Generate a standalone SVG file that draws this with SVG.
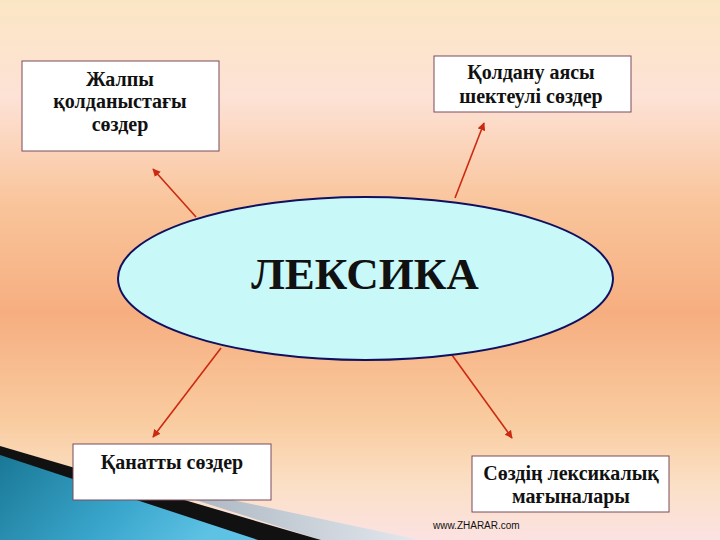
<svg xmlns="http://www.w3.org/2000/svg" width="720" height="540" viewBox="0 0 720 540">
  <defs>
    <linearGradient id="bg" x1="0" y1="0" x2="0" y2="1">
      <stop offset="0" stop-color="#fbe6c4"/>
      <stop offset="0.18" stop-color="#fde2d6"/>
      <stop offset="0.38" stop-color="#f9c49a"/>
      <stop offset="0.58" stop-color="#f6ae80"/>
      <stop offset="0.78" stop-color="#f9cca0"/>
      <stop offset="0.9" stop-color="#fbe0c6"/>
      <stop offset="1" stop-color="#fbe2e2"/>
    </linearGradient>
    <linearGradient id="blue" x1="0" y1="0" x2="1" y2="0.3">
      <stop offset="0" stop-color="#1a7896"/>
      <stop offset="0.6" stop-color="#3aa6cc"/>
      <stop offset="1" stop-color="#5ec2e4"/>
    </linearGradient>
    <linearGradient id="grey" x1="0" y1="0" x2="1" y2="0">
      <stop offset="0" stop-color="#9aa8b4"/>
      <stop offset="1" stop-color="#e4e8ee"/>
    </linearGradient>
    <marker id="ah" viewBox="0 0 10 10" refX="9" refY="5" markerWidth="5" markerHeight="5" orient="auto">
      <path d="M0,0 L10,5 L0,10 z" fill="#cc2a10"/>
    </marker>
    <style>
      .box{fill:#ffffff;stroke:#7a4a5a;stroke-width:1}
      .t{font-family:"Liberation Serif","Times New Roman",serif;font-weight:bold;font-size:20px;fill:#111;text-anchor:middle}
      .arr{stroke:#cc2a10;stroke-width:1.6;fill:none;marker-end:url(#ah)}
    </style>
  </defs>
  <rect x="0" y="0" width="720" height="540" fill="url(#bg)"/>
  <g id="corner">
    <polygon points="120,476 420,540 321,540" fill="url(#grey)"/>
    <polygon points="0,446 321,540 0,540" fill="#111111"/>
    <polygon points="0,455 258,540 0,540" fill="url(#blue)"/>
  </g>
  <g id="connectors">
    <line class="arr" x1="196" y1="217" x2="153" y2="169"/>
    <line class="arr" x1="455" y1="198" x2="484" y2="123"/>
    <line class="arr" x1="221" y1="348" x2="153" y2="437"/>
    <line class="arr" x1="452" y1="355" x2="512" y2="438"/>
  </g>
  <g id="center">
    <ellipse cx="365.5" cy="278.5" rx="247.5" ry="81.5" fill="#c8f8f8" stroke="#101060" stroke-width="2"/>
    <text x="365" y="289" font-family="'Liberation Serif','Times New Roman',serif" font-weight="bold" font-size="45" fill="#111" text-anchor="middle">ЛЕКСИКА</text>
  </g>
  <g id="n1">
    <rect class="box" x="22" y="61" width="197" height="90"/>
    <text class="t" x="120" y="86">Жалпы</text>
    <text class="t" x="120" y="108">қолданыстағы</text>
    <text class="t" x="120" y="131">сөздер</text>
  </g>
  <g id="n2">
    <rect class="box" x="434" y="56" width="197" height="56"/>
    <text class="t" x="531" y="79">Қолдану аясы</text>
    <text class="t" x="531" y="103">шектеулі сөздер</text>
  </g>
  <g id="n3">
    <rect class="box" x="73" y="444" width="198" height="56"/>
    <text class="t" x="172" y="469">Қанатты сөздер</text>
  </g>
  <g id="n4">
    <rect class="box" x="472" y="456" width="197" height="56"/>
    <text class="t" x="571" y="480">Сөздің лексикалық</text>
    <text class="t" x="571" y="503">мағыналары</text>
  </g>
  <text x="433" y="529" font-family="'Liberation Sans',Arial,sans-serif" font-size="10" fill="#111">www.ZHARAR.com</text>
</svg>
